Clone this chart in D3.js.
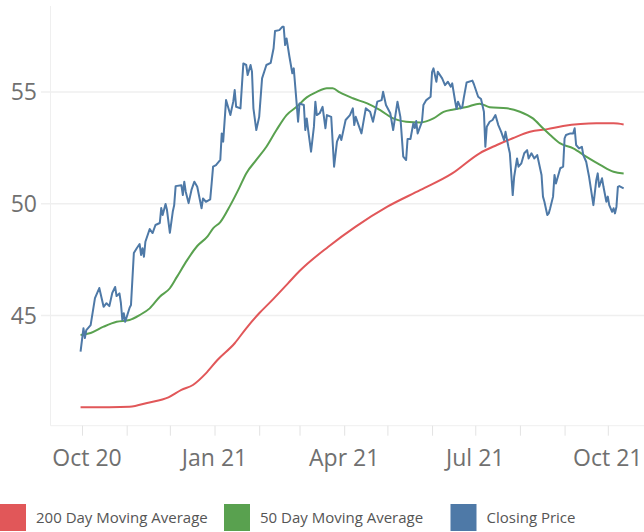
<!DOCTYPE html>
<html lang="en">
<head>
<meta charset="UTF-8">
<title>Closing Price vs Moving Averages</title>
<script src="https://d3js.org/d3.v7.min.js"></script>
<style>
  body { margin: 0; background: #fff; }
  text { font-family: "Open Sans", sans-serif; }
</style>
</head>
<body>
<script>
// closing price
const closeDates = [
  "2020-09-30","2020-10-02","2020-10-03","2020-10-04","2020-10-07","2020-10-10","2020-10-13","2020-10-16","2020-10-18","2020-10-20",
  "2020-10-22","2020-10-24","2020-10-25","2020-10-27","2020-10-28","2020-10-29","2020-10-30","2020-10-31","2020-11-03","2020-11-04",
  "2020-11-06","2020-11-08","2020-11-10","2020-11-11","2020-11-12","2020-11-13","2020-11-14","2020-11-17","2020-11-19","2020-11-21",
  "2020-11-24","2020-11-25","2020-11-26","2020-11-28","2020-11-29","2020-12-01","2020-12-03","2020-12-04","2020-12-05","2020-12-09",
  "2020-12-10","2020-12-11","2020-12-12","2020-12-14","2020-12-16","2020-12-18","2020-12-20","2020-12-23","2020-12-24","2020-12-26",
  "2020-12-29","2020-12-30","2020-12-31","2021-01-02","2021-01-05","2021-01-06","2021-01-07","2021-01-09","2021-01-12","2021-01-14",
  "2021-01-15","2021-01-16","2021-01-19","2021-01-21","2021-01-23","2021-01-24","2021-01-26","2021-01-27","2021-01-28","2021-01-30",
  "2021-02-01","2021-02-03","2021-02-06","2021-02-09","2021-02-11","2021-02-12","2021-02-15","2021-02-17","2021-02-18","2021-02-19",
  "2021-02-20","2021-02-22","2021-02-24","2021-02-25","2021-02-27","2021-02-28","2021-03-01","2021-03-04","2021-03-05","2021-03-06",
  "2021-03-07","2021-03-09","2021-03-11","2021-03-12","2021-03-13","2021-03-15","2021-03-17","2021-03-19","2021-03-20","2021-03-23",
  "2021-03-25","2021-03-27","2021-03-29","2021-03-30","2021-04-02","2021-04-05","2021-04-07","2021-04-08","2021-04-09","2021-04-13",
  "2021-04-16","2021-04-19","2021-04-21","2021-04-22","2021-04-24","2021-04-27","2021-04-28","2021-04-30","2021-05-03","2021-05-05",
  "2021-05-08","2021-05-10","2021-05-12","2021-05-14","2021-05-15","2021-05-17","2021-05-19","2021-05-20","2021-05-21","2021-05-22",
  "2021-05-25","2021-05-26","2021-05-28","2021-05-31","2021-06-01","2021-06-02","2021-06-04","2021-06-05","2021-06-08","2021-06-10",
  "2021-06-12","2021-06-14","2021-06-15","2021-06-17","2021-06-18","2021-06-19","2021-06-21","2021-06-22","2021-06-23","2021-06-25",
  "2021-06-29","2021-06-30","2021-07-03","2021-07-05","2021-07-07","2021-07-08","2021-07-09","2021-07-11","2021-07-13","2021-07-15",
  "2021-07-17","2021-07-19","2021-07-21","2021-07-22","2021-07-24","2021-07-25","2021-07-27","2021-07-28","2021-07-30","2021-07-31",
  "2021-08-02","2021-08-04","2021-08-06","2021-08-07","2021-08-09","2021-08-11","2021-08-13","2021-08-16","2021-08-17","2021-08-18",
  "2021-08-20","2021-08-21","2021-08-22","2021-08-24","2021-08-25","2021-08-26","2021-08-29","2021-08-31","2021-09-01","2021-09-02",
  "2021-09-05","2021-09-07","2021-09-08","2021-09-09","2021-09-11","2021-09-13","2021-09-14","2021-09-16","2021-09-18","2021-09-21",
  "2021-09-23","2021-09-24","2021-09-25","2021-09-27","2021-09-28","2021-09-30","2021-10-01","2021-10-02","2021-10-04","2021-10-05",
  "2021-10-06","2021-10-07","2021-10-08","2021-10-09","2021-10-12"
];
const closePrices = [
  43.38,44.43,43.99,44.35,44.57,45.78,46.23,45.39,45.55,45.42,
  46.01,46.28,45.87,45.99,45.56,44.80,45.10,44.72,45.34,45.47,
  47.80,48.01,48.20,47.71,48.01,47.63,48.30,48.87,48.69,49.05,
  49.14,49.81,49.50,49.99,49.72,48.70,49.64,49.94,50.79,50.83,
  50.39,50.99,50.54,50.03,50.62,50.99,50.76,49.80,50.24,50.09,
  50.20,50.91,51.66,51.73,51.96,53.15,52.78,54.64,53.97,54.57,
  55.09,54.34,54.27,56.28,56.21,55.76,56.21,55.91,54.27,53.30,
  53.89,55.61,56.21,56.31,56.96,57.73,57.77,57.92,57.92,57.10,
  57.40,56.58,55.84,56.06,54.49,53.67,54.49,54.42,53.30,53.82,
  53.30,52.33,53.45,54.57,53.97,54.05,54.34,53.38,53.97,53.89,
  51.66,52.78,53.08,52.85,53.75,53.97,54.27,53.52,53.89,53.15,
  54.27,54.12,53.67,53.97,54.57,54.64,55.01,54.42,54.05,53.30,
  54.57,53.89,52.11,51.96,52.90,52.90,53.60,53.39,53.70,53.15,
  53.67,54.42,54.64,54.79,55.89,56.06,55.46,55.91,55.61,55.31,
  55.46,55.24,55.39,54.60,54.24,54.57,54.27,54.33,54.73,55.43,
  55.51,55.36,54.79,54.69,54.12,52.55,53.45,53.67,53.75,53.97,
  53.52,53.22,52.85,53.22,52.55,52.26,50.39,51.21,52.03,51.66,
  51.81,52.26,52.40,52.03,52.26,52.03,52.18,51.29,50.32,50.09,
  49.50,49.57,49.80,50.32,51.29,50.91,51.59,51.66,52.93,53.08,
  53.15,53.15,53.38,52.63,52.48,52.55,52.18,51.88,51.21,49.94,
  51.06,51.36,50.76,51.14,50.76,50.09,50.32,49.94,49.64,49.80,
  49.57,49.87,50.76,50.79,50.69
];

// 50 day moving average
const ma50Dates = [
  "2020-09-30","2020-10-07","2020-10-16","2020-10-25","2020-11-03","2020-11-10","2020-11-17","2020-11-24","2020-12-01","2020-12-06",
  "2020-12-13","2020-12-20","2020-12-27","2020-12-31","2021-01-05","2021-01-12","2021-01-18","2021-01-23","2021-01-30","2021-02-06",
  "2021-02-13","2021-02-20","2021-02-27","2021-03-06","2021-03-13","2021-03-20","2021-03-24","2021-03-29","2021-04-07","2021-04-17",
  "2021-04-26","2021-05-05","2021-05-14","2021-05-24","2021-06-02","2021-06-09","2021-06-16","2021-06-25","2021-07-04","2021-07-11",
  "2021-07-23","2021-08-01","2021-08-10","2021-08-17","2021-08-22","2021-08-29","2021-09-07","2021-09-16","2021-09-26","2021-10-05",
  "2021-10-12"
];
const ma50Values = [
  44.13,44.22,44.50,44.72,44.80,45.02,45.32,45.84,46.22,46.74,
  47.48,48.11,48.53,48.90,49.18,49.94,50.69,51.36,51.96,52.55,
  53.30,53.97,54.34,54.76,55.01,55.17,55.17,54.98,54.72,54.49,
  54.19,53.82,53.67,53.64,53.82,54.11,54.22,54.33,54.48,54.32,
  54.27,54.12,53.82,53.38,53.08,52.70,52.48,52.11,51.73,51.43,
  51.36
];

// 200 day moving average
const ma200Dates = [
  "2020-09-30","2020-11-03","2020-11-16","2020-11-30","2020-12-09","2020-12-17","2020-12-26","2021-01-03","2021-01-15","2021-01-23",
  "2021-02-01","2021-02-09","2021-02-21","2021-03-01","2021-03-21","2021-04-09","2021-05-01","2021-05-24","2021-06-15","2021-07-04",
  "2021-07-16","2021-07-27","2021-08-08","2021-08-20","2021-08-31","2021-09-12","2021-09-23","2021-10-05","2021-10-12"
];
const ma200Values = [
  40.89,40.92,41.10,41.34,41.67,41.89,42.41,43.01,43.76,44.43,
  45.10,45.62,46.44,46.99,48.08,48.98,49.87,50.62,51.36,52.26,
  52.63,52.93,53.22,53.34,53.48,53.57,53.60,53.60,53.55
];

const yTicks = [45, 50, 55];
const xTickDates = ["2020-10-01","2021-01-01","2021-04-01","2021-07-01","2021-10-01"];
const xTickLabels = ["Oct 20", "Jan 21", "Apr 21", "Jul 21", "Oct 21"];
const legendLabels = ["200 Day Moving Average", "50 Day Moving Average", "Closing Price"];
const legendColors = ["#e15759", "#59a14f", "#4e79a7"];

const width = 644, height = 532;
const plotLeft = 50.5, plotRight = 644, plotTop = 6, plotBottom = 425.7;

const parse = d3.timeParse("%Y-%m-%d");

const x = d3.scaleTime()
  .domain([parse("2020-10-01"), parse("2021-10-01")])
  .range([82, 607.8]);
const y = d3.scaleLinear().domain([40.07, 58.85]).range([plotBottom, plotTop]);

const svg = d3.select("body").append("svg")
  .attr("width", width).attr("height", height);

// horizontal gridlines
svg.append("g").selectAll("line")
  .data(yTicks).join("line")
  .attr("x1", 41).attr("x2", plotRight)
  .attr("y1", d => y(d)).attr("y2", d => y(d))
  .attr("stroke", "#efefef").attr("stroke-width", 1.5);

// frame lines
svg.append("line").attr("x1", plotLeft).attr("x2", plotLeft).attr("y1", plotTop).attr("y2", plotBottom)
  .attr("stroke", "#efefef");
svg.append("line").attr("x1", plotLeft).attr("x2", plotRight).attr("y1", plotBottom).attr("y2", plotBottom)
  .attr("stroke", "#efefef");

// y labels
svg.append("g").selectAll("text")
  .data(yTicks).join("text")
  .attr("x", 37).attr("y", d => y(d))
  .attr("dy", "0.36em")
  .attr("text-anchor", "end")
  .attr("font-size", 23)
  .attr("fill", "#707070")
  .text(d => d);

// monthly ticks on the x axis
const xAxis = d3.axisBottom(x)
  .tickValues(d3.timeMonth.range(parse("2020-10-01"), parse("2021-10-02")))
  .tickSize(10)
  .tickFormat("");
const gx = svg.append("g").attr("transform", `translate(0,${plotBottom})`).call(xAxis);
gx.select(".domain").remove();
gx.selectAll(".tick line").attr("stroke", "#e3e3e3");

// quarter labels
svg.append("g").selectAll("text")
  .data(xTickDates).join("text")
  .attr("x", (d, i) => x(parse(d)) + (i === 0 ? 5 : 0))
  .attr("y", 466)
  .attr("text-anchor", "middle")
  .attr("font-size", 23)
  .attr("fill", "#707070")
  .text((d, i) => xTickLabels[i]);

const rawLine = d3.line()
  .x(d => x(d[0]))
  .y(d => y(d[1]));
const smoothLine = d3.line()
  .curve(d3.curveMonotoneX)
  .x(d => x(d[0]))
  .y(d => y(d[1]));

const series = [
  { dates: ma200Dates, values: ma200Values, color: legendColors[0], gen: smoothLine },
  { dates: ma50Dates, values: ma50Values, color: legendColors[1], gen: smoothLine },
  { dates: closeDates, values: closePrices, color: legendColors[2], gen: rawLine }
];

series.forEach(s => {
  const pts = s.dates.map((d, i) => [parse(d), s.values[i]]);
  svg.append("path")
    .datum(pts)
    .attr("d", s.gen)
    .attr("fill", "none")
    .attr("stroke", s.color)
    .attr("stroke-width", 2)
    .attr("stroke-linejoin", "round");
});

// legend
const legendX = [0, 224, 450.5];
const lg = svg.append("g").selectAll("g")
  .data(legendLabels).join("g")
  .attr("transform", (d, i) => `translate(${legendX[i]},504)`);
lg.append("rect")
  .attr("width", 26).attr("height", 27)
  .attr("fill", (d, i) => legendColors[i]);
lg.append("text")
  .attr("x", 36).attr("y", 19)
  .attr("font-size", 15)
  .attr("fill", "#555")
  .text(d => d);
</script>
</body>
</html>
